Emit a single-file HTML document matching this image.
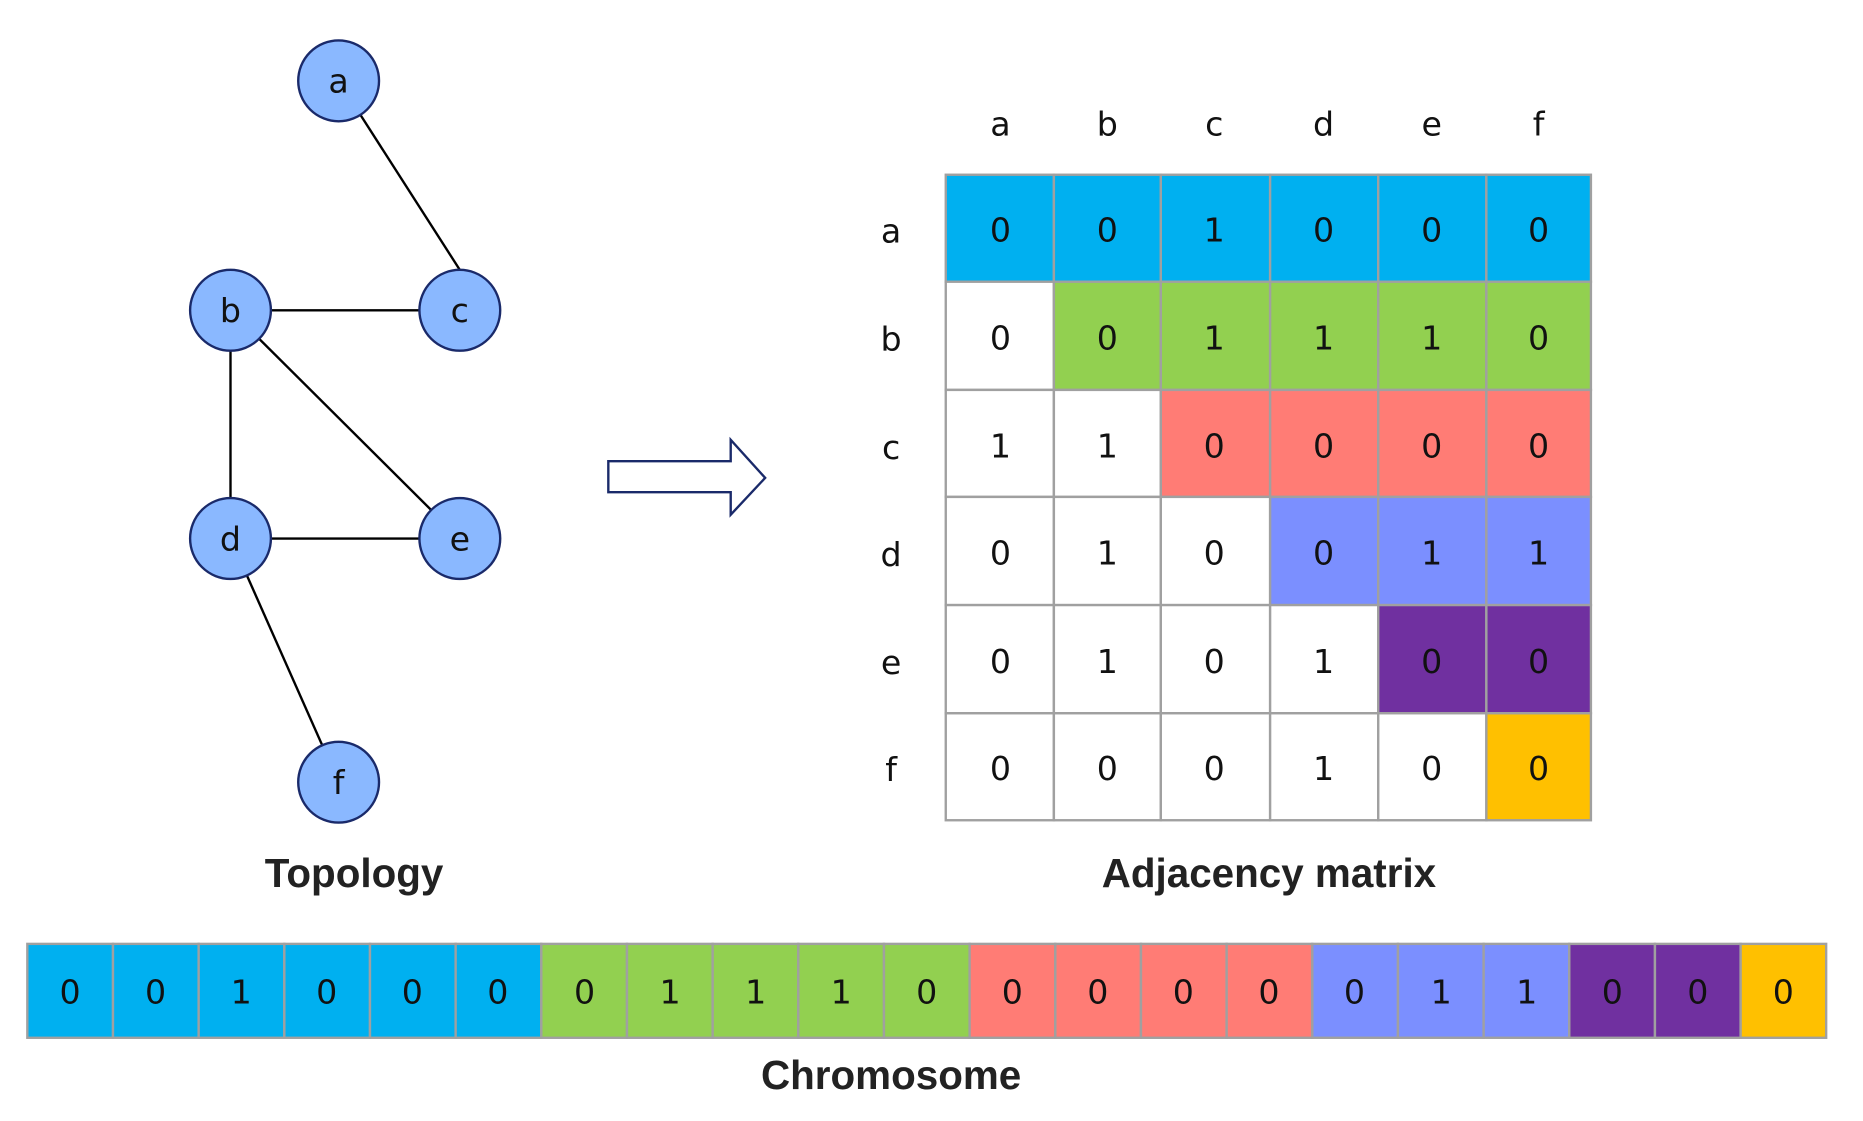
<!DOCTYPE html>
<html><head><meta charset="utf-8"><style>html,body{margin:0;padding:0;background:#fff}svg{display:block}</style></head>
<body>
<svg width="1863" height="1121" viewBox="0 0 1568 943" preserveAspectRatio="none" xmlns="http://www.w3.org/2000/svg" font-family="'DejaVu Sans','Liberation Sans',sans-serif">
<g stroke="#000" stroke-width="2">
<line x1="285" y1="68" x2="387" y2="227"/>
<line x1="194" y1="261" x2="387" y2="261"/>
<line x1="194" y1="261" x2="194" y2="453"/>
<line x1="194" y1="261" x2="387" y2="453"/>
<line x1="194" y1="453" x2="387" y2="453"/>
<line x1="194" y1="453" x2="285" y2="658"/>
</g>
<g fill="#8ab8ff" stroke="#1a2a6a" stroke-width="2">
<circle cx="285" cy="68" r="34"/><circle cx="194" cy="261" r="34"/><circle cx="387" cy="261" r="34"/>
<circle cx="194" cy="453" r="34"/><circle cx="387" cy="453" r="34"/><circle cx="285" cy="658" r="34"/>
</g>
<g font-size="28" text-anchor="middle" fill="#111">
<text x="285" y="78">a</text><text x="194" y="271">b</text><text x="387" y="271">c</text>
<text x="194" y="463">d</text><text x="387" y="463">e</text><text x="285" y="668">f</text>
</g>
<path d="M512 388 L615 388 L615 370 L644 402 L615 433 L615 414 L512 414 Z" fill="#fff" stroke="#1a2a6a" stroke-width="2"/>
<g font-size="28" text-anchor="middle" fill="#111">
<text x="842" y="114">a</text><text x="932" y="114">b</text><text x="1022" y="114">c</text><text x="1114" y="114">d</text><text x="1205" y="114">e</text><text x="1295" y="114">f</text>
<text x="750" y="204">a</text><text x="750" y="295">b</text><text x="750" y="386">c</text><text x="750" y="476">d</text><text x="750" y="567">e</text><text x="750" y="657">f</text>
</g>
<g stroke="#a0a0a0" stroke-width="2">
<rect x="796" y="147" width="91" height="90" fill="#00b0f0"/><rect x="887" y="147" width="90" height="90" fill="#00b0f0"/><rect x="977" y="147" width="92" height="90" fill="#00b0f0"/><rect x="1069" y="147" width="91" height="90" fill="#00b0f0"/><rect x="1160" y="147" width="91" height="90" fill="#00b0f0"/><rect x="1251" y="147" width="88" height="90" fill="#00b0f0"/>
<rect x="796" y="237" width="91" height="91" fill="#fff"/><rect x="887" y="237" width="90" height="91" fill="#92d050"/><rect x="977" y="237" width="92" height="91" fill="#92d050"/><rect x="1069" y="237" width="91" height="91" fill="#92d050"/><rect x="1160" y="237" width="91" height="91" fill="#92d050"/><rect x="1251" y="237" width="88" height="91" fill="#92d050"/>
<rect x="796" y="328" width="91" height="90" fill="#fff"/><rect x="887" y="328" width="90" height="90" fill="#fff"/><rect x="977" y="328" width="92" height="90" fill="#ff7c75"/><rect x="1069" y="328" width="91" height="90" fill="#ff7c75"/><rect x="1160" y="328" width="91" height="90" fill="#ff7c75"/><rect x="1251" y="328" width="88" height="90" fill="#ff7c75"/>
<rect x="796" y="418" width="91" height="91" fill="#fff"/><rect x="887" y="418" width="90" height="91" fill="#fff"/><rect x="977" y="418" width="92" height="91" fill="#fff"/><rect x="1069" y="418" width="91" height="91" fill="#7b8fff"/><rect x="1160" y="418" width="91" height="91" fill="#7b8fff"/><rect x="1251" y="418" width="88" height="91" fill="#7b8fff"/>
<rect x="796" y="509" width="91" height="91" fill="#fff"/><rect x="887" y="509" width="90" height="91" fill="#fff"/><rect x="977" y="509" width="92" height="91" fill="#fff"/><rect x="1069" y="509" width="91" height="91" fill="#fff"/><rect x="1160" y="509" width="91" height="91" fill="#7030a0"/><rect x="1251" y="509" width="88" height="91" fill="#7030a0"/>
<rect x="796" y="600" width="91" height="90" fill="#fff"/><rect x="887" y="600" width="90" height="90" fill="#fff"/><rect x="977" y="600" width="92" height="90" fill="#fff"/><rect x="1069" y="600" width="91" height="90" fill="#fff"/><rect x="1160" y="600" width="91" height="90" fill="#fff"/><rect x="1251" y="600" width="88" height="90" fill="#ffc000"/>
</g>
<g font-size="28" text-anchor="middle" fill="#111">
<text x="842" y="203">0</text><text x="932" y="203">0</text><text x="1022" y="203">1</text><text x="1114" y="203">0</text><text x="1205" y="203">0</text><text x="1295" y="203">0</text>
<text x="842" y="294">0</text><text x="932" y="294">0</text><text x="1022" y="294">1</text><text x="1114" y="294">1</text><text x="1205" y="294">1</text><text x="1295" y="294">0</text>
<text x="842" y="385">1</text><text x="932" y="385">1</text><text x="1022" y="385">0</text><text x="1114" y="385">0</text><text x="1205" y="385">0</text><text x="1295" y="385">0</text>
<text x="842" y="475">0</text><text x="932" y="475">1</text><text x="1022" y="475">0</text><text x="1114" y="475">0</text><text x="1205" y="475">1</text><text x="1295" y="475">1</text>
<text x="842" y="566">0</text><text x="932" y="566">1</text><text x="1022" y="566">0</text><text x="1114" y="566">1</text><text x="1205" y="566">0</text><text x="1295" y="566">0</text>
<text x="842" y="656">0</text><text x="932" y="656">0</text><text x="1022" y="656">0</text><text x="1114" y="656">1</text><text x="1205" y="656">0</text><text x="1295" y="656">0</text>
</g>
<g font-size="34" font-weight="bold" text-anchor="middle" fill="#222" font-family="'Liberation Sans',sans-serif">
<text x="298" y="746">Topology</text><text x="1068" y="746">Adjacency matrix</text><text x="750" y="916">Chromosome</text>
</g>
<g stroke="#a0a0a0" stroke-width="2">
<rect x="23" y="794" width="72.1" height="79" fill="#00b0f0"/><rect x="95.1" y="794" width="72.1" height="79" fill="#00b0f0"/><rect x="167.2" y="794" width="72.1" height="79" fill="#00b0f0"/><rect x="239.3" y="794" width="72.1" height="79" fill="#00b0f0"/><rect x="311.4" y="794" width="72.1" height="79" fill="#00b0f0"/><rect x="383.5" y="794" width="72.1" height="79" fill="#00b0f0"/>
<rect x="455.6" y="794" width="72.1" height="79" fill="#92d050"/><rect x="527.7" y="794" width="72.1" height="79" fill="#92d050"/><rect x="599.8" y="794" width="72.1" height="79" fill="#92d050"/><rect x="671.9" y="794" width="72.1" height="79" fill="#92d050"/><rect x="744" y="794" width="72.1" height="79" fill="#92d050"/>
<rect x="816.1" y="794" width="72.1" height="79" fill="#ff7c75"/><rect x="888.2" y="794" width="72.1" height="79" fill="#ff7c75"/><rect x="960.3" y="794" width="72.1" height="79" fill="#ff7c75"/><rect x="1032.4" y="794" width="72.1" height="79" fill="#ff7c75"/>
<rect x="1104.5" y="794" width="72.1" height="79" fill="#7b8fff"/><rect x="1176.6" y="794" width="72.1" height="79" fill="#7b8fff"/><rect x="1248.7" y="794" width="72.1" height="79" fill="#7b8fff"/>
<rect x="1320.8" y="794" width="72.1" height="79" fill="#7030a0"/><rect x="1392.9" y="794" width="72.1" height="79" fill="#7030a0"/>
<rect x="1465" y="794" width="72" height="79" fill="#ffc000"/>
</g>
<g font-size="28" text-anchor="middle" fill="#111">
<text x="59" y="844">0</text><text x="131" y="844">0</text><text x="203" y="844">1</text><text x="275" y="844">0</text><text x="347" y="844">0</text><text x="419" y="844">0</text>
<text x="492" y="844">0</text><text x="564" y="844">1</text><text x="636" y="844">1</text><text x="708" y="844">1</text><text x="780" y="844">0</text>
<text x="852" y="844">0</text><text x="924" y="844">0</text><text x="996" y="844">0</text><text x="1068" y="844">0</text>
<text x="1140" y="844">0</text><text x="1213" y="844">1</text><text x="1285" y="844">1</text>
<text x="1357" y="844">0</text><text x="1429" y="844">0</text><text x="1501" y="844">0</text>
</g>
</svg>
</body></html>
